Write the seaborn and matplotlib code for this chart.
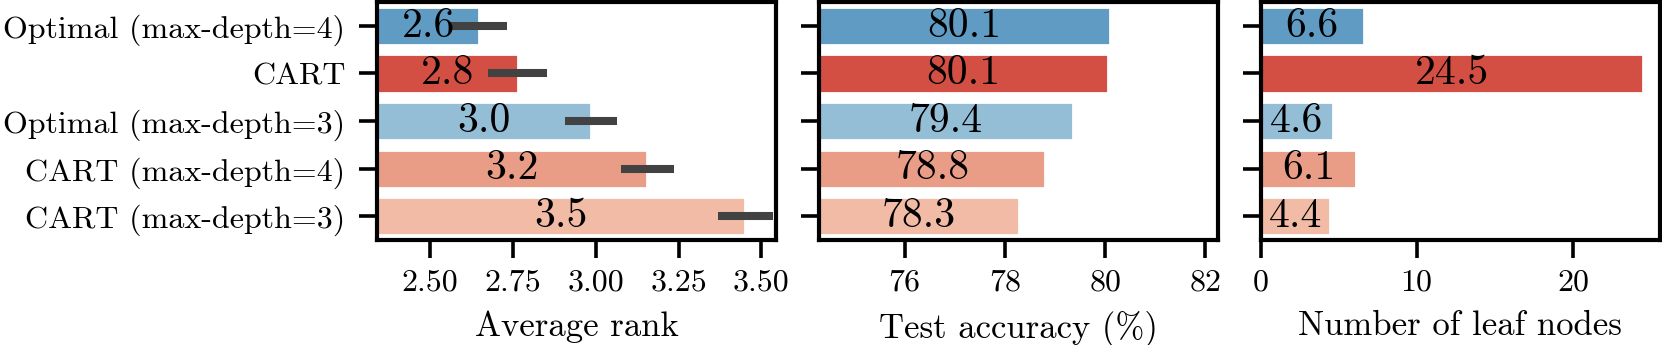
import matplotlib
matplotlib.use("Agg")
import matplotlib.pyplot as plt
import numpy as np
import pandas as pd
import seaborn as sns

# values
methods = ["Optimal (max-depth=4)", "CART", "Optimal (max-depth=3)",
           "CART (max-depth=4)", "CART (max-depth=3)"]
colors = ["#5f9bc2", "#d44f43", "#94bdd6", "#ea9d86", "#f1bba6"]

avg_rank = [2.648, 2.764, 2.985, 3.156, 3.452]
avg_rank_err = [0.085, 0.09, 0.079, 0.080, 0.083]
test_acc = [80.105, 80.06, 79.36, 78.81, 78.29]
leaf_nodes = [6.61, 24.48, 4.64, 6.13, 4.44]

sns.set_style("ticks")
plt.rcParams["font.family"] = ["cmr10", "DejaVu Serif"]
plt.rcParams["mathtext.fontset"] = "cm"
plt.rcParams["axes.formatter.use_mathtext"] = True
for key in ["text.color", "axes.labelcolor", "xtick.color", "ytick.color",
            "axes.edgecolor"]:
    plt.rcParams[key] = "black"

df = pd.DataFrame({"method": methods, "rank": avg_rank, "acc": test_acc,
                   "leaves": leaf_nodes})

fig, axes = plt.subplots(1, 3, figsize=(8.31, 1.725), dpi=200, sharey=True)
fig.subplots_adjust(left=0.227, right=0.9985, bottom=0.304, top=0.994, wspace=0.107)

panels = [("rank", "Average rank", (2.34, 3.545), [2.5, 2.75, 3.0, 3.25, 3.5]),
          ("acc", "Test accuracy (%)", (74.29, 82.25), [76, 78, 80, 82]),
          ("leaves", "Number of leaf nodes", (0, 25.55), [0, 10, 20])]

for ax, (col, label, lim, ticks) in zip(axes, panels):
    sns.barplot(data=df, x=col, y="method", hue="method", palette=colors,
                saturation=1, legend=False, width=0.8, errorbar=None, ax=ax)
    if col == "rank":
        ax.errorbar(df[col], np.arange(len(methods)), xerr=avg_rank_err,
                    fmt="none", ecolor="#424242", elinewidth=2.9, capsize=0)
        ax.set_xticks(ticks)
        ax.set_xticklabels([f"{t:.2f}" for t in ticks])
    else:
        ax.set_xticks(ticks)
    ax.set_xlim(*lim)
    # value label centred in the visible part of each bar
    for i, v in enumerate(df[col]):
        ax.text((lim[0] + v) / 2, i, f"{v:.1f}", ha="center", va="center",
                fontsize=15, color="black")
    ax.set_xlabel(label, fontsize=12.5, labelpad=5)
    ax.set_ylabel("")
    for s in ax.spines.values():
        s.set_linewidth(1.5)
    ax.tick_params(length=6.5, width=1.3, labelsize=11.5, pad=4)
    ax.tick_params(axis="y", pad=5)

fig.savefig("out.png", dpi=200)
